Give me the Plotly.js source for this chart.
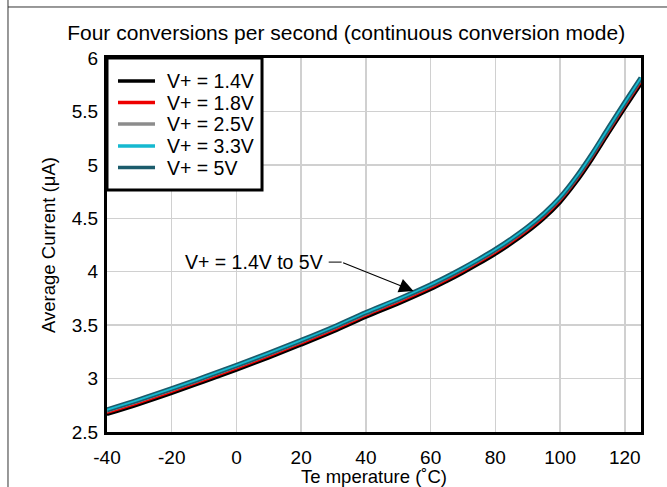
<!DOCTYPE html>
<html><head><meta charset="utf-8">
<script src="https://cdn.plot.ly/plotly-3.0.1.min.js"></script>
<style>html,body{margin:0;padding:0;background:#fff}#c{width:667px;height:487px}</style>
</head><body><div id="c"></div>
<script>
// Temperature (°C)
const temps = [-40,-30,-20,-10,0,10,20,30,40,50,60,65,70,75,80,85,90,95,100,105,110,115,120,125];
// Average current (µA) per supply voltage
const v14 = [2.662,2.757,2.859,2.967,3.077,3.192,3.312,3.437,3.572,3.697,3.832,3.907,3.987,4.072,4.162,4.261,4.371,4.495,4.644,4.833,5.052,5.291,5.525,5.755];
const v18 = [2.676,2.771,2.873,2.981,3.091,3.206,3.326,3.451,3.586,3.711,3.846,3.921,4.001,4.086,4.176,4.276,4.386,4.51,4.66,4.849,5.069,5.308,5.543,5.773];
const v25 = [2.69,2.785,2.887,2.995,3.105,3.22,3.34,3.465,3.60,3.725,3.86,3.935,4.015,4.10,4.19,4.29,4.40,4.525,4.675,4.865,5.085,5.325,5.56,5.79];
const v33 = [2.708,2.803,2.905,3.013,3.123,3.238,3.358,3.483,3.618,3.743,3.878,3.953,4.033,4.118,4.208,4.308,4.418,4.544,4.695,4.886,5.107,5.348,5.584,5.815];
const v50 = [2.708,2.803,2.905,3.013,3.123,3.238,3.358,3.483,3.618,3.743,3.878,3.953,4.033,4.118,4.208,4.308,4.418,4.544,4.695,4.886,5.107,5.348,5.584,5.815];
const names = ["V+ = 1.4V","V+ = 1.8V","V+ = 2.5V","V+ = 3.3V","V+ = 5V"];
const colors = ["#000000","#ee0000","#8c8c8c","#15b9d0","#1b5c6c"];
const xTickVals = [-40,-20,0,20,40,60,80,100,120];
const xTickText = ["-40","-20","0","20","40","60","80","100","120"];
const yTickVals = [2.5,3,3.5,4,4.5,5,5.5,6];
const yTickText = ["2.5","3","3.5","4","4.5","5","5.5","6"];
const annoText = "V+ = 1.4V to 5V";
const F = "Arial, 'Liberation Sans', sans-serif";

const series = [v14,v18,v25,v33,v50];
const widths = [3,1.8,2,1.8,5];
const order = [0,1,2,4,3]; // 5V drawn beneath 3.3V
const traces = order.map(i => ({
  x: temps, y: series[i], name: names[i], type: 'scatter', mode: 'lines',
  line: {color: colors[i], width: widths[i], shape: 'spline', smoothing: 1},
  showlegend: false, hoverinfo: 'skip'
}));

// manual legend box (paper coordinates of plot area)
const legX0 = 0.0206, legX1 = 0.0899, legTextX = 0.1086;
const legY = [0.9385, 0.881, 0.8235, 0.7647, 0.7072];
const shapes = [
  {type: 'line', xref: 'paper', yref: 'paper', x0: -0.1854, x1: 1.06, y0: 1.1364, y1: 1.1364, line: {color: '#333', width: 1}},
  {type: 'line', xref: 'paper', yref: 'paper', x0: -0.1854, x1: -0.1854, y0: -0.2, y1: 1.2, line: {color: '#333', width: 1}},
  {type: 'line', xref: 'x', yref: 'y', x0: 28.5, x1: 32.5, y0: 4.09, y1: 4.09, line: {color: '#000', width: 1}},
  {type: 'rect', xref: 'paper', yref: 'paper', x0: 0, x1: 0.2903, y0: 0.647, y1: 1, fillcolor: '#fff', line: {color: '#000', width: 3}}
];
const annotations = [
  {x: 27.4, y: 4.094, xref: 'x', yref: 'y', text: annoText, showarrow: false, xanchor: 'right', yanchor: 'middle',
    font: {family: F, size: 19.5}},
  {x: 54.7, y: 3.82, xref: 'x', yref: 'y', ax: 32.5, ay: 4.09, axref: 'x', ayref: 'y', text: '', showarrow: true,
    arrowhead: 2, arrowsize: 2.6, arrowwidth: 1.1, arrowcolor: '#000'}
];
names.forEach((n, i) => {
  shapes.push({type: 'line', xref: 'paper', yref: 'paper', x0: legX0, x1: legX1, y0: legY[i], y1: legY[i],
    line: {color: colors[i], width: 3.5}});
  annotations.push({x: legTextX, y: legY[i], xref: 'paper', yref: 'paper', text: n, showarrow: false,
    xanchor: 'left', yanchor: 'middle', font: {family: F, size: 19.5}});
});

const layout = {
  width: 667, height: 487,
  margin: {l: 107, r: 26, t: 58, b: 55},
  paper_bgcolor: '#fff', plot_bgcolor: '#fff',
  font: {family: F, size: 19, color: '#000'},
  title: {text: 'Four conversions per second (continuous conversion mode)',
    font: {family: F, size: 21, color: '#000'},
    x: 0.519, xref: 'container', xanchor: 'center', y: 0.932, yref: 'container', yanchor: 'middle'},
  xaxis: {range: [-40, 125], tickvals: xTickVals, ticktext: xTickText, ticks: '', showgrid: true, gridcolor: '#d0d0d0', gridwidth: 1.5,
    showline: true, linecolor: '#000', linewidth: 3, mirror: true, zeroline: false,
    tickfont: {family: F, size: 19}, ticklabelstandoff: 6,
    title: {text: 'Te mperature (˚C)', font: {family: F, size: 18.5}, standoff: 0}},
  yaxis: {range: [2.5, 6], tickvals: yTickVals, ticktext: yTickText, ticks: '', showgrid: true, gridcolor: '#d0d0d0', gridwidth: 1.5,
    showline: true, linecolor: '#000', linewidth: 3, mirror: true, zeroline: false,
    tickfont: {family: F, size: 19}, ticklabelstandoff: 2,
    title: {text: 'Average Current (μA)', font: {family: F, size: 18.5}, standoff: 12}},
  showlegend: false,
  shapes: shapes,
  annotations: annotations
};
Plotly.newPlot('c', traces, layout, {displayModeBar: false, staticPlot: true});
</script></body></html>
